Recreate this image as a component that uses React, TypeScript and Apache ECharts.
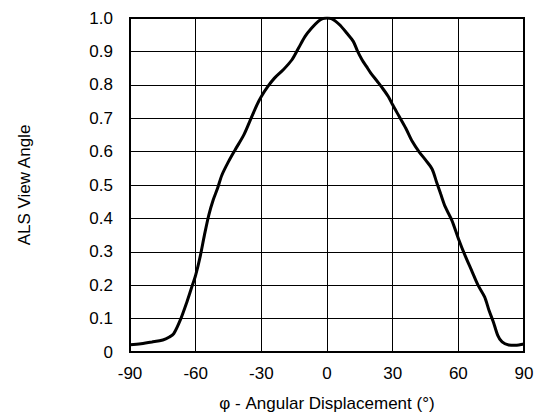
import React, { useEffect, useRef } from "react";
import * as echarts from "echarts";

const angles = [
  -90, -85, -80, -75, -72, -70, -67, -64, -62, -60, -58, -56, -54, -52, -50, -48, -45, -42, -38, -35,
  -32, -30, -27, -24, -20, -16, -13, -10, -7, -4, -2, 0, 2, 4, 6, 9, 12, 14, 16, 18, 20, 23, 25, 28,
  30, 33, 36, 39, 42, 45, 48, 50, 52, 54, 57, 60, 63, 66, 69, 72, 74, 76, 78, 80, 83, 86, 90,
];
const viewAngle = [
  0.022, 0.025, 0.03, 0.036, 0.045, 0.055, 0.096, 0.15, 0.19, 0.23, 0.284, 0.35, 0.41, 0.455, 0.49,
  0.53, 0.57, 0.605, 0.65, 0.695, 0.74, 0.765, 0.795, 0.82, 0.845, 0.875, 0.91, 0.945, 0.97, 0.99,
  0.998, 1.0, 0.998, 0.99, 0.978, 0.955, 0.93, 0.9, 0.875, 0.855, 0.835, 0.81, 0.793, 0.765, 0.74,
  0.705, 0.67, 0.63, 0.6, 0.575, 0.548, 0.51, 0.472, 0.435, 0.395, 0.34, 0.29, 0.245, 0.2, 0.165,
  0.125, 0.09, 0.05, 0.03, 0.021, 0.02, 0.024,
];

const xTitle = "φ - Angular Displacement (°)";
const yTitle = "ALS View Angle";

const FONT = '"Liberation Sans", Arial, Helvetica, sans-serif';

export default function App() {
  const ref = useRef<HTMLDivElement>(null);
  useEffect(() => {
    document.body.style.margin = "0";
    const chart = echarts.init(ref.current!, undefined, { renderer: "svg" });
    chart.setOption({
      animation: false,
      backgroundColor: "#ffffff",
      textStyle: { fontFamily: FONT },
      grid: {
        left: 130,
        top: 18,
        right: 13,
        bottom: 66,
        show: true,
        borderColor: "#000",
        borderWidth: 2,
        containLabel: false,
      },
      xAxis: {
        type: "value",
        min: -90,
        max: 90,
        interval: 30,
        name: xTitle,
        nameLocation: "middle",
        nameGap: 43,
        nameTextStyle: { color: "#000", fontSize: 17, fontFamily: FONT },
        axisLine: { show: false },
        axisTick: { show: false },
        axisLabel: { color: "#000", fontSize: 17, margin: 13, fontFamily: FONT },
        splitLine: { show: true, lineStyle: { color: "#000", width: 1 } },
      },
      yAxis: {
        type: "value",
        min: 0,
        max: 1,
        interval: 0.1,
        name: yTitle,
        nameLocation: "middle",
        nameGap: 97,
        nameRotate: 90,
        nameTextStyle: { color: "#000", fontSize: 17, fontFamily: FONT },
        axisLine: { show: false },
        axisTick: { show: false },
        axisLabel: {
          color: "#000",
          fontSize: 17,
          margin: 17,
          fontFamily: FONT,
          formatter: (v: number) => (v === 0 ? "0" : v.toFixed(1)),
        },
        splitLine: { show: true, lineStyle: { color: "#000", width: 1 } },
      },
      series: [
        {
          type: "line",
          data: angles.map((a, i) => [a, viewAngle[i]]),
          smooth: 0.3,
          showSymbol: false,
          lineStyle: { color: "#000", width: 3 },
          clip: true,
        },
      ],
    });
    return () => chart.dispose();
  }, []);
  return <div ref={ref} style={{ width: 537, height: 418 }} />;
}
